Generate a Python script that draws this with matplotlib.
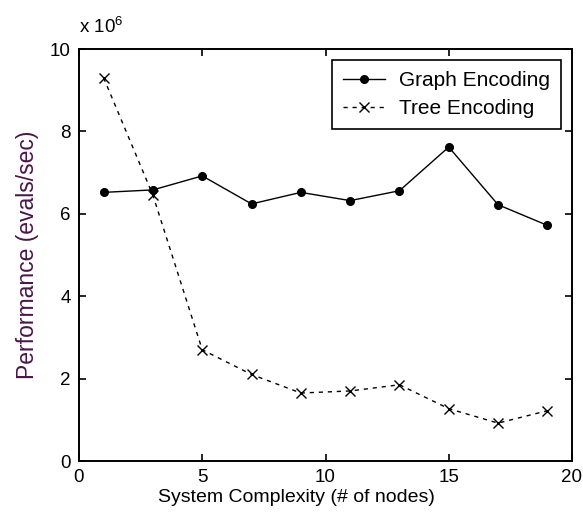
import numpy as np
import matplotlib
matplotlib.use('Agg')
import matplotlib.pyplot as plt

plt.rcParams['font.family'] = ['Liberation Sans', 'DejaVu Sans']
plt.rcParams['mathtext.fontset'] = 'custom'
plt.rcParams['mathtext.rm'] = 'Liberation Sans'

nodes = [1, 3, 5, 7, 9, 11, 13, 15, 17, 19]
graph_perf = [6.52e6, 6.58e6, 6.92e6, 6.24e6, 6.52e6, 6.32e6, 6.56e6, 7.62e6, 6.22e6, 5.72e6]
tree_perf = [9.30e6, 6.45e6, 2.70e6, 2.10e6, 1.65e6, 1.70e6, 1.85e6, 1.27e6, 0.92e6, 1.22e6]

fig = plt.figure(figsize=(5.83, 5.12), dpi=100)
ax = fig.add_axes([79/583, 51/512, 493/583, 412/512])

ax.plot(nodes, graph_perf, 'k-', marker='o', markersize=5.5, linewidth=1.0,
        label='Graph Encoding')
ax.plot(nodes, tree_perf, 'k--', marker='x', markersize=7, linewidth=1.0,
        dashes=(3, 3.5), label='Tree Encoding')

ax.set_xlim(0, 20)
ax.set_ylim(0, 10e6)
ax.set_xticks([0, 5, 10, 15, 20])
ax.set_yticks([0, 2e6, 4e6, 6e6, 8e6, 10e6])
ax.set_yticklabels(['0', '2', '4', '6', '8', '10'])
ax.tick_params(direction='in', top=True, right=True, labelsize=13.5, length=5, width=1.2)
ax.tick_params(axis='x', pad=6)
ax.tick_params(axis='y', pad=6)
for s in ax.spines.values():
    s.set_linewidth(1.4)

ax.text(0, 1.03, 'x 10$^6$', transform=ax.transAxes, fontsize=13.5, va='bottom', ha='left')
ax.set_xlabel('System Complexity (# of nodes)', fontsize=14)
ax.xaxis.set_label_coords(0.442, -0.068)
ax.set_ylabel('Performance (evals/sec)', fontsize=16.5, color='#4a1548', labelpad=8)

leg = ax.legend(loc='upper right', fontsize=15, fancybox=False, framealpha=1,
                edgecolor='black', borderaxespad=0.55, handlelength=2.0,
                labelspacing=0.45, handletextpad=0.7, borderpad=0.5)
leg.get_frame().set_linewidth(1.2)

fig.savefig('out.png', dpi=100)
